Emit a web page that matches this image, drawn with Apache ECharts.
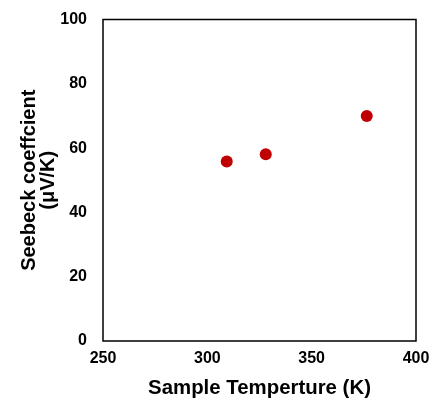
<!DOCTYPE html>
<html><head><meta charset="utf-8">
<script src="https://cdn.jsdelivr.net/npm/echarts@6/dist/echarts.min.js"></script>
<style>html,body{margin:0;padding:0;background:#fff}#c{width:431px;height:398px}</style>
</head><body><div id="c"></div>
<script>
const temperatures = [309.3, 328, 376.4];
const seebeck = [55.8, 58.1, 70.0];
const xTicks = [250, 300, 350, 400];
const yTicks = [0, 20, 40, 60, 80, 100];
const xTitle = 'Sample Temperture (K)';
const yTitle = 'Seebeck coeffcient\n(μV/K)';

const chart = echarts.init(document.getElementById('c'), null, {renderer:'canvas'});
const font = 'Liberation Sans, Arial, sans-serif';
chart.setOption({
  animation:false,
  grid:{left:103, top:19.5, width:313, height:321.5, containLabel:false, outerBoundsMode:'none',
    show:true, borderColor:'#000', borderWidth:1.5, backgroundColor:'#fff'},
  xAxis:{type:'value', min:xTicks[0], max:xTicks[xTicks.length-1], interval:50,
    axisLine:{show:false}, axisTick:{show:false}, splitLine:{show:false},
    axisLabel:{color:'#000', fontFamily:font, fontWeight:'bold', fontSize:16, margin:10},
    name:xTitle, nameLocation:'middle', nameGap:37, nameMoveOverlap:false,
    nameTextStyle:{color:'#000', fontFamily:font, fontWeight:'bold', fontSize:20.4}},
  yAxis:{type:'value', min:yTicks[0], max:yTicks[yTicks.length-1], interval:20,
    axisLine:{show:false}, axisTick:{show:false}, splitLine:{show:false},
    axisLabel:{color:'#000', fontFamily:font, fontWeight:'bold', fontSize:16, margin:16},
    name:yTitle, nameLocation:'middle', nameGap:45, nameMoveOverlap:false,
    nameTextStyle:{color:'#000', fontFamily:font, fontWeight:'bold', fontSize:20, lineHeight:19}},
  series:[{type:'scatter', data:temperatures.map((t,i)=>[t, seebeck[i]]),
    symbol:'circle', symbolSize:12, itemStyle:{color:'#c00000', opacity:1}}]
});
</script></body></html>
